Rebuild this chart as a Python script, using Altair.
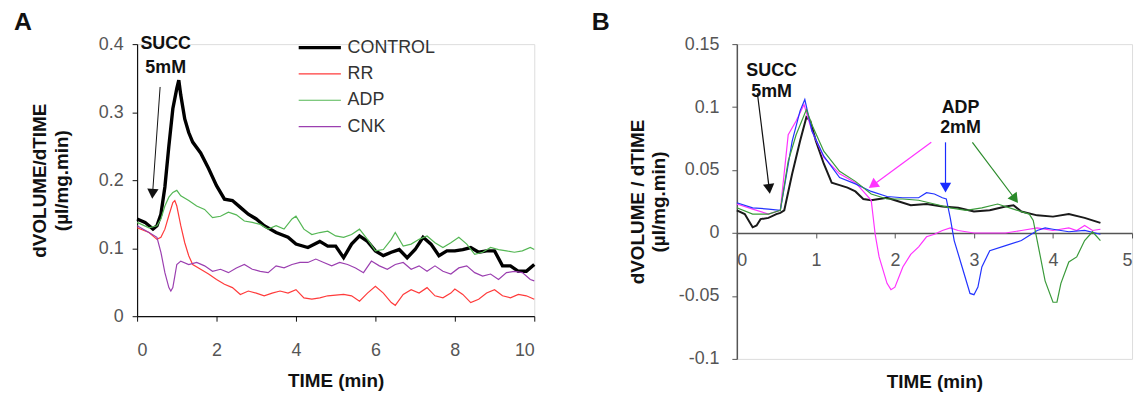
import altair as alt
import pandas as pd

# ---------------- Panel A data ----------------
a_names = ["CONTROL", "RR", "ADP", "CNK"]
a_colors = ["#000000", "#ff3b3b", "#55b755", "#9b3fb0"]
a_widths = [3.4, 1.2, 1.2, 1.2]

control_t = [0, 0.2, 0.4, 0.5, 0.6, 0.7, 0.8, 0.9, 1.0, 1.05, 1.1, 1.2, 1.3, 1.4, 1.6, 1.8, 2.0, 2.2, 2.4, 2.6,
             2.8, 3.0, 3.2, 3.5, 3.8, 4.0, 4.3, 4.6, 4.8, 5.0, 5.2, 5.4, 5.6, 5.8, 6.0, 6.2, 6.4, 6.6, 6.8, 7.0,
             7.2, 7.4, 7.6, 7.8, 8.0, 8.2, 8.4, 8.6, 8.8, 9.0, 9.2, 9.4, 9.6, 9.8, 10]
control_v = [0.143, 0.138, 0.128, 0.133, 0.15, 0.19, 0.25, 0.305, 0.335, 0.347, 0.325, 0.29, 0.27, 0.256, 0.24,
             0.217, 0.192, 0.172, 0.17, 0.16, 0.15, 0.143, 0.133, 0.123, 0.116, 0.106, 0.101, 0.11, 0.103, 0.103,
             0.086, 0.106, 0.118, 0.11, 0.096, 0.089, 0.094, 0.098, 0.086, 0.098, 0.116, 0.106, 0.089, 0.096,
             0.096, 0.098, 0.101, 0.094, 0.096, 0.096, 0.074, 0.074, 0.066, 0.066, 0.076]

rr_t = [0, 0.3, 0.5, 0.6, 0.7, 0.8, 0.9, 0.95, 1.0, 1.1, 1.2, 1.3, 1.4, 1.6, 1.8, 2.0, 2.2, 2.4, 2.6, 2.8,
        3.0, 3.2, 3.4, 3.6, 3.8, 4.0, 4.2, 4.4, 4.6, 4.8, 5.0, 5.2, 5.4, 5.6, 5.8, 6.0, 6.2, 6.4, 6.5, 6.7,
        6.9, 7.1, 7.3, 7.5, 7.7, 7.9, 8.0, 8.2, 8.4, 8.6, 8.8, 9.0, 9.2, 9.4, 9.6, 9.8, 10]
rr_v = [0.13, 0.123, 0.113, 0.116, 0.128, 0.148, 0.167, 0.17, 0.162, 0.133, 0.108, 0.089, 0.076, 0.069, 0.062,
        0.054, 0.047, 0.042, 0.032, 0.037, 0.034, 0.03, 0.034, 0.037, 0.034, 0.039, 0.027, 0.025, 0.027, 0.03,
        0.031, 0.032, 0.03, 0.022, 0.034, 0.044, 0.034, 0.02, 0.016, 0.032, 0.039, 0.034, 0.042, 0.03, 0.027,
        0.034, 0.04, 0.032, 0.02, 0.025, 0.034, 0.039, 0.03, 0.027, 0.032, 0.03, 0.025]

adp_t = [0, 0.3, 0.5, 0.6, 0.7, 0.8, 0.9, 1.0, 1.1, 1.3, 1.5, 1.7, 1.9, 2.1, 2.3, 2.5, 2.7, 2.9, 3.1, 3.3,
         3.5, 3.7, 3.9, 4.0, 4.2, 4.4, 4.6, 4.8, 5.0, 5.2, 5.4, 5.6, 5.8, 6.0, 6.2, 6.4, 6.5, 6.7, 6.9, 7.1,
         7.3, 7.5, 7.7, 7.9, 8.1, 8.3, 8.5, 8.7, 8.9, 9.1, 9.3, 9.5, 9.7, 9.9, 10]
adp_v = [0.138, 0.13, 0.133, 0.143, 0.162, 0.175, 0.182, 0.185, 0.177, 0.17, 0.162, 0.157, 0.145, 0.147, 0.153,
         0.149, 0.14, 0.138, 0.135, 0.128, 0.133, 0.128, 0.143, 0.147, 0.128, 0.12, 0.123, 0.125, 0.118, 0.116,
         0.12, 0.128, 0.113, 0.096, 0.098, 0.113, 0.123, 0.103, 0.106, 0.113, 0.118, 0.108, 0.101, 0.108, 0.116,
         0.106, 0.091, 0.094, 0.101, 0.098, 0.096, 0.094, 0.096, 0.101, 0.098]

cnk_t = [0, 0.3, 0.5, 0.6, 0.7, 0.8, 0.85, 0.9, 0.95, 1.0, 1.1, 1.3, 1.5, 1.7, 1.9, 2.1, 2.3, 2.5, 2.7, 2.9,
         3.1, 3.3, 3.5, 3.7, 3.9, 4.1, 4.3, 4.5, 4.7, 4.9, 5.1, 5.3, 5.5, 5.7, 5.9, 6.1, 6.3, 6.5, 6.7, 6.9,
         7.1, 7.3, 7.5, 7.7, 7.9, 8.1, 8.3, 8.5, 8.7, 8.9, 9.1, 9.3, 9.5, 9.7, 9.9, 10]
cnk_v = [0.133, 0.123, 0.116, 0.094, 0.064, 0.042, 0.037, 0.042, 0.059, 0.076, 0.081, 0.076, 0.079, 0.074, 0.066,
         0.069, 0.064, 0.071, 0.076, 0.069, 0.066, 0.064, 0.074, 0.071, 0.076, 0.079, 0.079, 0.084, 0.079, 0.074,
         0.079, 0.076, 0.071, 0.064, 0.081, 0.074, 0.069, 0.076, 0.079, 0.069, 0.074, 0.066, 0.074, 0.066, 0.062,
         0.071, 0.074, 0.064, 0.059, 0.062, 0.054, 0.064, 0.066, 0.064, 0.054, 0.052]

a_xticks = [0, 2, 4, 6, 8, 10]
a_yticks = [0, 0.1, 0.2, 0.3, 0.4]

# annotations panel A
a_ann_text = ["SUCC", "5mM"]
a_ann_t = [0.72, 0.72]
a_ann_v = [0.40, 0.365]
a_arrow_t = [0.58]
a_arrow_v = [0.337]
a_arrow_t2 = [0.39]
a_arrow_v2 = [0.18]
a_arrow_angle = [184]

# ---------------- Panel B data ----------------
b_names = ["black", "magenta", "blue", "green"]
b_colors = ["#1a1a1a", "#ff33ff", "#2233ff", "#3a9a3a"]
b_widths = [2.0, 1.2, 1.2, 1.2]

bk_t = [0, 0.1, 0.2, 0.25, 0.3, 0.4, 0.5, 0.55, 0.6, 0.7, 0.8, 0.88, 0.93, 1.0, 1.1, 1.2, 1.3, 1.4, 1.5, 1.6,
        1.7, 1.8, 1.9, 2.0, 2.2, 2.4, 2.6, 2.8, 3.0, 3.2, 3.4, 3.5, 3.6, 3.8, 4.0, 4.2, 4.4, 4.6]
bk_v = [0.018, 0.015, 0.0045, 0.006, 0.011, 0.012, 0.015, 0.016, 0.018, 0.047, 0.073, 0.092, 0.089, 0.073, 0.055,
        0.04, 0.038, 0.036, 0.033, 0.027, 0.026, 0.027, 0.028, 0.026, 0.022, 0.023, 0.021, 0.02, 0.017, 0.018,
        0.021, 0.022, 0.017, 0.014, 0.013, 0.015, 0.012, 0.008]

mg_t = [0, 0.2, 0.4, 0.55, 0.65, 0.75, 0.85, 0.95, 1.1, 1.3, 1.5, 1.6, 1.7, 1.75, 1.8, 1.9, 1.95, 2.0, 2.1, 2.2,
        2.3, 2.4, 2.5, 2.6, 2.7, 2.8, 3.0, 3.2, 3.4, 3.6, 3.8, 4.0, 4.2, 4.3, 4.4, 4.5, 4.6]
mg_v = [0.023, 0.019, 0.015, 0.018, 0.078, 0.089, 0.102, 0.081, 0.06, 0.047, 0.04, 0.033, 0.026, -0.001, -0.019,
        -0.04, -0.045, -0.043, -0.027, -0.017, -0.011, -0.003, -0.001, 0.002, 0.004, 0.002, 0.0, 0.0, 0.0, 0.002,
        0.004, 0.002, 0.004, 0.002, 0.006, 0.002, 0.003]

bl_t = [0, 0.2, 0.4, 0.55, 0.6, 0.7, 0.8, 0.86, 0.95, 1.1, 1.3, 1.5, 1.7, 1.9, 2.1, 2.3, 2.4, 2.5, 2.6, 2.65,
        2.7, 2.75, 2.85, 2.95, 3.0, 3.05, 3.1, 3.2, 3.4, 3.6, 3.7, 3.8, 3.9, 4.0, 4.2, 4.4, 4.6]
bl_v = [0.024, 0.02, 0.019, 0.018, 0.036, 0.073, 0.097, 0.106, 0.081, 0.061, 0.044, 0.039, 0.033, 0.029, 0.028,
        0.028, 0.032, 0.031, 0.028, 0.027, 0.012, -0.006, -0.027, -0.048, -0.049, -0.043, -0.027, -0.014, -0.01,
        -0.006, -0.002, 0.002, 0.004, 0.003, 0.001, 0.002, -0.001]

gr_t = [0, 0.2, 0.4, 0.55, 0.65, 0.75, 0.88, 0.95, 1.1, 1.3, 1.5, 1.7, 1.9, 2.1, 2.3, 2.5, 2.7, 2.9, 3.1, 3.3,
        3.5, 3.7, 3.75, 3.8, 3.9, 4.0, 4.05, 4.1, 4.2, 4.3, 4.4, 4.5, 4.6]
gr_v = [0.02, 0.015, 0.015, 0.018, 0.057, 0.078, 0.098, 0.086, 0.065, 0.049, 0.041, 0.031, 0.027, 0.027, 0.026,
        0.023, 0.02, 0.018, 0.02, 0.023, 0.019, 0.015, 0.01, -0.006, -0.038, -0.055, -0.055, -0.04, -0.023,
        -0.019, -0.006, 0.001, -0.006]

b_xticks = [0, 1, 2, 3, 4, 5]
b_yticks = [-0.1, -0.05, 0, 0.05, 0.1, 0.15]

b_ann_text = ["SUCC", "5mM", "ADP", "2mM"]
b_ann_t = [0.44, 0.44, 2.83, 2.83]
b_ann_v = [0.1285, 0.112, 0.0994, 0.083]
b_arrow_t = [0.26, 2.46, 2.64, 2.98]
b_arrow_v = [0.111, 0.072, 0.072, 0.072]
b_arrow_t2 = [0.41, 1.72, 2.64, 3.52]
b_arrow_v2 = [0.035, 0.038, 0.036, 0.027]
b_arrow_color = ["#111111", "#ff33ff", "#1a2bff", "#2a8a2a"]
b_arrow_angle = [173, 234, 180, 143]

panel_letters = ["A", "B"]


def long_df(names, ts, vs):
    rows = []
    for n, tt, vv in zip(names, ts, vs):
        assert len(tt) == len(vv), n
        for k, (a, b) in enumerate(zip(tt, vv)):
            rows.append({"series": n, "t": a, "v": b, "i": k})
    return pd.DataFrame(rows)


df_a = long_df(a_names, [control_t, rr_t, adp_t, cnk_t], [control_v, rr_v, adp_v, cnk_v])
df_b = long_df(b_names, [bk_t, mg_t, bl_t, gr_t], [bk_v, mg_v, bl_v, gr_v])

FONT = "Liberation Sans"
LABEL_COLOR = "#555555"

legend_a = alt.Legend(title=None, orient="none", legendX=173.5, legendY=-7, padding=0,
                      symbolType="M-2.5,0L2.5,0", symbolSize=289, labelOffset=17.5,
                      labelFontSize=18, labelFont=FONT, labelColor="#333", rowPadding=7.5)


def letter(text, dx, dy):
    return alt.Chart(pd.DataFrame({"label": [text]})).mark_text(
        font=FONT, fontSize=25, fontWeight="bold", color="#111", align="left", baseline="middle"
    ).encode(text="label:N", x=alt.value(dx), y=alt.value(dy))


# ---------------- Panel A ----------------
xa = alt.X("t:Q", scale=alt.Scale(domain=[0, 10], nice=False),
           axis=alt.Axis(values=a_xticks, format="d", title="TIME (min)", grid=False, domainColor="#111",
                         tickColor="#111", domainWidth=1.2, tickSize=5, labelFontSize=18, labelColor=LABEL_COLOR,
                         labelPadding=21, labelFont=FONT, titleFont=FONT, titleFontSize=19,
                         titleFontWeight="bold", titleColor="#111", titleX=200, titleY=56, titleBaseline="top",
                         titleAlign="center"))
ya = alt.Y("v:Q", scale=alt.Scale(domain=[0, 0.4], nice=False),
           axis=alt.Axis(values=a_yticks, format="~g", title=["dVOLUME/dTIME", "(µl/mg.min)"], grid=False,
                         domainColor="#111", tickColor="#111", domainWidth=1.2, tickSize=5, labelFontSize=18,
                         labelColor=LABEL_COLOR, labelPadding=9, labelFont=FONT, titleFont=FONT, titleFontSize=19,
                         titleFontWeight="bold", titleColor="#111", titleLineHeight=22, titleX=-88, titleY=137,
                         titleAlign="center", titleBaseline="bottom", titleAngle=-90))

lines_a = alt.Chart(df_a).mark_line().encode(
    x=xa, y=ya,
    color=alt.Color("series:N", scale=alt.Scale(domain=a_names, range=a_colors), legend=legend_a),
    strokeWidth=alt.StrokeWidth("series:N", scale=alt.Scale(type="ordinal", domain=a_names, range=a_widths),
                                legend=legend_a),
    order="i:Q",
)

ann_a = alt.Chart(pd.DataFrame({"label": a_ann_text, "t": a_ann_t, "v": a_ann_v})).mark_text(
    font=FONT, fontSize=18, fontWeight="bold", color="#111", baseline="middle", align="center"
).encode(x="t:Q", y="v:Q", text="label:N")

arr_a_df = pd.DataFrame({"t": a_arrow_t, "v": a_arrow_v, "t2": a_arrow_t2, "v2": a_arrow_v2,
                         "ang": a_arrow_angle})
arr_a_line = alt.Chart(arr_a_df).mark_rule(color="#111", strokeWidth=1).encode(
    x="t:Q", y="v:Q", x2="t2:Q", y2="v2:Q")
arr_a_head = alt.Chart(arr_a_df).mark_point(shape="triangle-up", filled=True, size=130, color="#111",
                                             opacity=1).encode(x="t2:Q", y="v2:Q", angle=alt.Angle("ang:Q", scale=None))

panel_a = alt.layer(lines_a, arr_a_line, arr_a_head, ann_a, letter(panel_letters[0], -124, -22)).properties(
    width=400, height=274)

# ---------------- Panel B ----------------
xb = alt.X("t:Q", scale=alt.Scale(domain=[0, 5], nice=False),
           axis=alt.Axis(values=b_xticks, format="d", title="TIME (min)", grid=False, offset=-126.8,
                         domainColor="#555", tickColor="#555", domainWidth=1.5, tickSize=5, labelFontSize=18,
                         labelColor=LABEL_COLOR, labelPadding=14, labelFont=FONT, titleFont=FONT, titleFontSize=19,
                         titleFontWeight="bold", titleColor="#111", titleX=199, titleY=141,
                         titleBaseline="top", titleAlign="center"))
yb = alt.Y("v:Q", scale=alt.Scale(domain=[-0.1, 0.15], nice=False),
           axis=alt.Axis(values=b_yticks, format="~g", labelExpr="replace(datum.label, '\u2212', '-')",
                         title=["dVOLUME  / dTIME", "(µl/mg.min)"], grid=False, domainColor="#555",
                         tickColor="#555", domainWidth=1.5, tickSize=5, labelFontSize=18, labelColor=LABEL_COLOR,
                         labelPadding=13, labelFont=FONT, titleFont=FONT, titleFontSize=19,
                         titleFontWeight="bold", titleColor="#111", titleLineHeight=21, titleX=-90, titleY=158.5,
                         titleAlign="center", titleBaseline="bottom", titleAngle=-90))

lines_b = alt.Chart(df_b).mark_line().encode(
    x=xb, y=yb,
    color=alt.Color("series:N", scale=alt.Scale(domain=b_names, range=b_colors), legend=None),
    strokeWidth=alt.StrokeWidth("series:N", scale=alt.Scale(type="ordinal", domain=b_names, range=b_widths),
                                legend=None),
    order="i:Q",
)

ann_b = alt.Chart(pd.DataFrame({"label": b_ann_text, "t": b_ann_t, "v": b_ann_v})).mark_text(
    font=FONT, fontSize=18, fontWeight="bold", color="#111", baseline="middle", align="center"
).encode(x="t:Q", y="v:Q", text="label:N")

arr_b_df = pd.DataFrame({"t": b_arrow_t, "v": b_arrow_v, "t2": b_arrow_t2, "v2": b_arrow_v2,
                         "c": b_arrow_color, "ang": b_arrow_angle})
arr_b_line = alt.Chart(arr_b_df).mark_rule(strokeWidth=1.2).encode(
    x="t:Q", y="v:Q", x2="t2:Q", y2="v2:Q", color=alt.Color("c:N", scale=None))
arr_b_head = alt.Chart(arr_b_df).mark_point(shape="triangle-up", filled=True, size=130, opacity=1).encode(
    x="t2:Q", y="v2:Q", color=alt.Color("c:N", scale=None), angle=alt.Angle("ang:Q", scale=None))

panel_b = alt.layer(lines_b, arr_b_line, arr_b_head, ann_b, letter(panel_letters[1], -146, -22)).properties(
    width=398, height=317)

chart = alt.hconcat(panel_a, panel_b, spacing=204, bounds="flush").resolve_scale(
    color="independent", strokeWidth="independent", x="independent", y="independent"
).properties(padding={"left": 5, "top": 0, "right": 5, "bottom": 5}).configure_view(stroke=None).configure(
    font=FONT, background="white")

chart.save("out.html", embed_options={"renderer": "svg", "actions": False})
